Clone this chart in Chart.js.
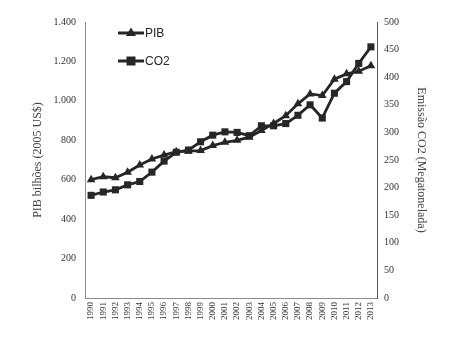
<!DOCTYPE html>
<html>
<head>
<meta charset="utf-8">
<script src="https://cdn.jsdelivr.net/npm/chart.js@4"></script>
<style>
html,body{margin:0;padding:0;background:#fff;}
#wrap{width:459px;height:341px;position:relative;}
</style>
</head>
<body>
<div id="wrap"><canvas id="c" width="459" height="341"></canvas></div>
<script>
const years = ['1990','1991','1992','1993','1994','1995','1996','1997','1998','1999','2000','2001','2002','2003','2004','2005','2006','2007','2008','2009','2010','2011','2012','2013'];
const pib = [600,615,610,638,675,705,725,742,745,748,773,790,800,816,850,885,925,985,1035,1027,1110,1137,1150,1178];
const co2 = [186,192,196,205,211,228,248,264,268,283,295,301,300,294,312,312,316,331,350,326,371,392,425,455];
const leftTicks = [0,200,400,600,800,1000,1200,1400];
const rightTicks = [0,50,100,150,200,250,300,350,400,450,500];
const seriesNames = ['PIB','CO2'];

const ink = '#262626';
const serif = "'Liberation Serif', 'DejaVu Serif', serif";
const narrow = "'Liberation Sans Narrow', 'Liberation Sans', sans-serif";

function fmt(v){ return v.toLocaleString('de-DE'); }

const legendPlugin = {
  id: 'lineLegend',
  afterDraw(chart){
    const ctx = chart.ctx;
    const items = [{name: seriesNames[0], style:'triangle', y:33},{name: seriesNames[1], style:'rect', y:61}];
    ctx.save();
    items.forEach(it=>{
      ctx.strokeStyle = ink; ctx.lineWidth = 3;
      ctx.beginPath(); ctx.moveTo(118, it.y); ctx.lineTo(144, it.y); ctx.stroke();
      ctx.fillStyle = ink;
      if(it.style==='triangle'){
        ctx.beginPath(); ctx.moveTo(131, it.y-5.5); ctx.lineTo(136, it.y+3); ctx.lineTo(126, it.y+3); ctx.closePath(); ctx.fill();
      } else {
        ctx.fillRect(126.5, it.y-4.5, 9, 9);
      }
      ctx.font = "12px " + narrow;
      ctx.textBaseline = 'middle'; ctx.textAlign='left';
      ctx.fillText(it.name, 145, it.y+1);
    });
    ctx.restore();
  }
};

new Chart(document.getElementById('c'), {
  type: 'line',
  data: {
    labels: years,
    datasets: [
      {label: seriesNames[0], data: pib, yAxisID:'y', borderColor: ink, backgroundColor: ink, borderWidth: 2.8,
       pointStyle:'triangle', pointRadius:5, pointBorderWidth:0, tension:0},
      {label: seriesNames[1], data: co2, yAxisID:'y1', borderColor: ink, backgroundColor: ink, borderWidth: 2.8,
       pointStyle:'rect', pointRadius:5, pointBorderWidth:0, tension:0}
    ]
  },
  options: {
    responsive:false, animation:false, devicePixelRatio:1,
    layout:{padding:{top:22, left:0, right:0, bottom:0}},
    plugins:{legend:{display:false}, tooltip:{enabled:false}},
    scales:{
      x:{
        offset:true,
        grid:{display:false, drawTicks:false},
        border:{color:'#8c8c8c', width:1},
        ticks:{minRotation:90, maxRotation:90, autoSkip:false, color:'#333', font:{family:serif, size:9}, padding:4},
        afterFit(s){ s.height = 43; }
      },
      y:{
        position:'left', min:0, max:1400,
        afterBuildTicks(s){ s.ticks = leftTicks.map(v=>({value:v})); },
        grid:{display:false, drawTicks:false},
        border:{color:'#8c8c8c', width:1},
        ticks:{color:'#333', font:{family:serif, size:10}, padding:9, callback:v=>fmt(v)},
        title:{display:true, text:'PIB bilhões (2005 US$)', color:'#444', font:{family:serif, size:12}, padding:{top:31,bottom:0}},
        afterFit(s){ s.width = 85; }
      },
      y1:{
        position:'right', min:0, max:500,
        afterBuildTicks(s){ s.ticks = rightTicks.map(v=>({value:v})); },
        grid:{display:false, drawOnChartArea:false, drawTicks:true, tickLength:4, color:'#555'},
        border:{color:'#555', width:1},
        ticks:{color:'#333', font:{family:serif, size:10}, padding:3},
        title:{display:true, text:'Emissão CO2 (Megatonelada)', color:'#444', font:{family:serif, size:12}, padding:{top:31,bottom:0}},
        afterFit(s){ s.width = 82; }
      }
    }
  },
  plugins:[legendPlugin]
});
</script>
</body>
</html>
